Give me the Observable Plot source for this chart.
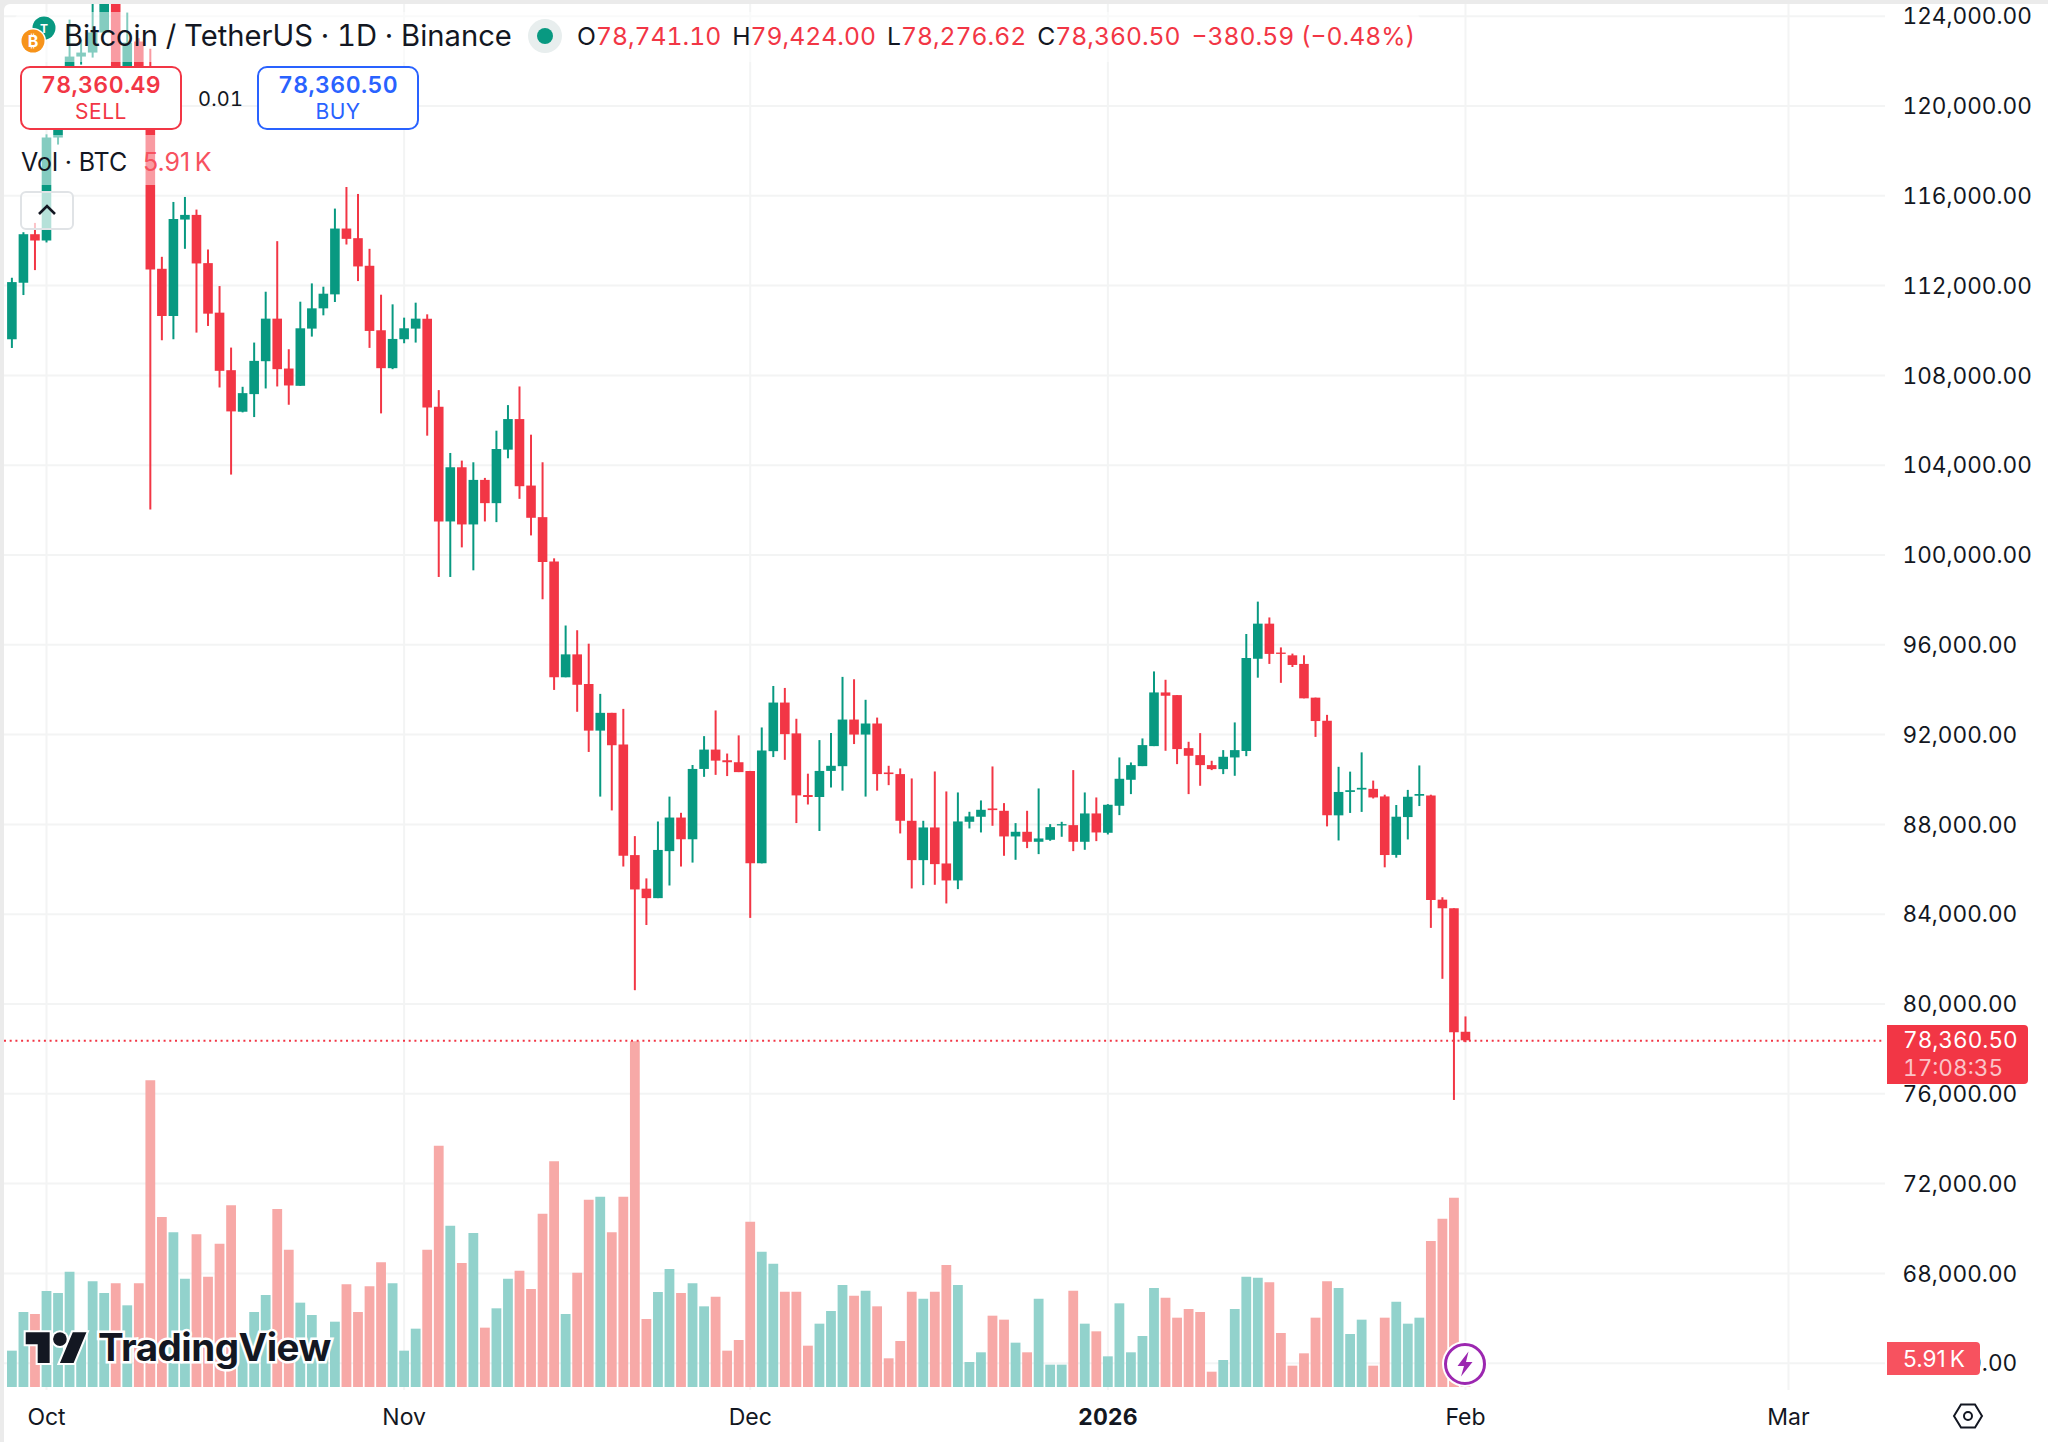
<!DOCTYPE html>
<html>
<head>
<meta charset="utf-8">
<script src="https://cdn.jsdelivr.net/npm/d3@7"></script>
<script src="https://cdn.jsdelivr.net/npm/@observablehq/plot@0.6"></script>
<style>
html,body{margin:0;padding:0;background:#fff;}
body{width:2048px;height:1442px;overflow:hidden;position:relative;font-family:Inter,sans-serif;color:#131722;font-variant-numeric:tabular-nums;}
#chart{position:absolute;left:0;top:0;}
#chart svg{background:#fff;font-family:Inter,sans-serif;font-variant-numeric:tabular-nums;display:block;}
.ov{position:absolute;white-space:nowrap;}
.box{position:absolute;box-sizing:border-box;background:#fff;border:2px solid;border-radius:10px;text-align:center;}
.box .p{font-size:23px;font-weight:600;line-height:28px;margin-top:3px;letter-spacing:.4px;}
.box .s{font-size:21px;font-weight:400;line-height:26px;letter-spacing:.5px;}
</style>
</head>
<body>
<div id="chart"></div>
<div class="ov" style="left:4px;top:4px;width:2100px;height:1500px;border-radius:6px 0 0 0;box-shadow:0 0 0 20px #ebebeb"></div>

<div class="ov" style="left:15px;top:12px;width:1405px;height:50px;background:rgba(255,255,255,.5);border-radius:8px"></div>
<div class="ov" style="left:15px;top:135px;width:210px;height:50px;background:rgba(255,255,255,.5);border-radius:8px"></div>

<svg class="ov" style="left:18px;top:14px" width="46" height="46" viewBox="0 0 46 46">
  <circle cx="26" cy="14" r="11.5" fill="#089981"/>
  <text x="26" y="19" font-size="12" font-weight="700" fill="#fff" text-anchor="middle">T</text>
  <circle cx="15" cy="27" r="13" fill="#fff"/>
  <circle cx="15" cy="27" r="11.5" fill="#f7931a"/>
  <text x="15" y="33" font-size="16" font-weight="700" fill="#fff" text-anchor="middle">₿</text>
</svg>
<div class="ov" style="left:64px;top:18px;font-size:29.2px;line-height:36px">Bitcoin / TetherUS · 1D · Binance</div>
<svg class="ov" style="left:527px;top:18px" width="36" height="36"><circle cx="18" cy="18" r="17" fill="#e8eeee"/><circle cx="18" cy="18" r="8" fill="#089981"/></svg>
<div class="ov" style="left:577px;top:20px;font-size:24.7px;line-height:32px"><span>O</span><span style="color:#f23645">78,741.10</span><span style="margin-left:11px">H</span><span style="color:#f23645">79,424.00</span><span style="margin-left:11px">L</span><span style="color:#f23645">78,276.62</span><span style="margin-left:11px">C</span><span style="color:#f23645">78,360.50</span><span style="margin-left:11px;color:#f23645">−380.59 (−0.48%)</span></div>

<div class="box" style="left:20px;top:66px;width:162px;height:64px;border-color:#f23645;color:#f23645"><div class="p">78,360.49</div><div class="s">SELL</div></div>
<div class="ov" style="left:198px;top:86px;font-size:20px;line-height:26px;letter-spacing:.2px">0.01</div>
<div class="box" style="left:257px;top:66px;width:162px;height:64px;border-color:#2962ff;color:#2962ff"><div class="p">78,360.50</div><div class="s">BUY</div></div>

<div class="ov" style="left:21px;top:146px;font-size:25px;line-height:32px">Vol · BTC</div>
<div class="ov" style="left:143px;top:146px;font-size:25px;line-height:32px;color:#f7525f;font-variant-numeric:normal">5.91&#8201;K</div>
<div class="ov" style="left:20px;top:191px;width:54px;height:39px;box-sizing:border-box;border:2px solid #e0e3e6;border-radius:6px;background:rgba(255,255,255,.7)"></div>
<svg class="ov" style="left:35px;top:201px" width="24" height="16"><path d="M4 13 L12 5 L20 13" fill="none" stroke="#131722" stroke-width="2.6"/></svg>

<svg class="ov" style="left:24px;top:1330px" width="64" height="36" viewBox="-1 3 37.4 20.4" overflow="visible">
  <g style="paint-order:stroke" stroke="#fff" stroke-width="2.4" fill="#131722">
    <path d="M14 22H7V11H0V4h14v18zM28 22h-8l7.5-18h8L28 22z"/><circle cx="20" cy="8" r="4"/>
  </g>
</svg>
<div class="ov" style="left:98px;top:1324px;font-size:38.6px;line-height:46px;font-weight:700;letter-spacing:-.55px;color:#131722;paint-order:stroke fill;-webkit-text-stroke:5px #fff">TradingView</div>

<svg class="ov" style="left:1439px;top:1338px" width="52" height="52" viewBox="0 0 52 52">
  <circle cx="26" cy="26" r="23" fill="#fff"/>
  <circle cx="26" cy="26" r="19.5" fill="#fff" stroke="#9c27b0" stroke-width="3"/>
  <path d="M29.5 13.5 L18.5 28 L25 28 L22 38.5 L33.5 24 L27 24 Z" fill="#9c27b0"/>
</svg>

<div class="ov" style="left:1887px;top:1025px;width:141px;height:59px;background:#f23645;border-radius:0 4px 4px 0"></div>
<div class="ov" style="left:1903px;top:1025px;font-size:22.6px;line-height:30px;color:#fff">78,360.50</div>
<div class="ov" style="left:1903px;top:1053px;font-size:22.6px;line-height:30px;color:#fbc3c7">17:08:35</div>
<div class="ov" style="left:1887px;top:1342px;width:93px;height:33px;background:#f7525f;border-radius:0 4px 4px 0"></div>
<div class="ov" style="left:1903px;top:1344px;font-size:22.6px;line-height:30px;color:#fff;font-variant-numeric:normal">5.91&#8201;K</div>
<svg class="ov" style="left:1952px;top:1402px" width="32" height="28" viewBox="0 0 32 28"><path d="M9 2.5 H23 L30 14 L23 25.5 H9 L2 14 Z" fill="none" stroke="#131722" stroke-width="2"/><circle cx="16" cy="14" r="4" fill="none" stroke="#131722" stroke-width="2"/></svg>

<script>
const startDay = "2025-09-28";
const opens = [109587,112105,114267,113986,118572,120500,122180,122358,123250,124650,121400,122850,121600,112727,110624,114919,115127,112979,110773,108210,106359,107144,108610,110506,108284,107514,110062,110965,111587,114519,114090,112861,109988,108299,109588,110062,110506,106581,101472,103886,101339,103323,102287,104670,106033,103071,101664,99688,94531,95552,94232,92155,92947,91539,86611,85115,84693,86787,88283,87315,90448,91310,90835,90747,90360,86242,91240,93405,92032,89286,89198,90360,90571,92648,91979,92472,90290,90219,88139,86386,87842,86238,85481,88094,88317,88688,88584,87441,87649,87203,87292,87931,87946,87203,88466,87604,88807,89965,90574,91465,93856,93737,91376,91064,90619,90440,90960,91248,95356,96920,95632,95509,95126,93624,92597,88381,89423,89530,89561,89224,86618,88304,89255,89270,84625,84242,78741.10];
const closes = [112134,114267,113986,118572,120500,122180,122358,123250,124650,121400,122800,121600,112690,110624,114949,115127,112964,110728,108181,106374,107188,108625,110506,108255,107529,110076,110965,111617,114519,114060,112831,109958,108299,109602,110076,110506,106552,101472,103886,101339,103323,102287,104700,106033,103042,101635,99665,94531,95552,94197,92155,92947,91504,86576,85080,84693,86840,88283,87315,90448,91310,90818,90747,90307,86242,91275,93405,91997,89269,89198,90360,90589,92648,91979,92472,90219,90219,88139,86386,87842,86208,85481,88109,88332,88629,88614,87441,87649,87203,87352,87857,87990,87203,88466,87619,88852,90010,90619,91510,93856,93708,91332,91034,90619,90440,90990,91287,95387,96920,95571,95571,95080,93593,92581,88381,89423,89500,89607,89178,86613,88320,89209,89331,84610,84242,78723,78360.50];
const highs = [112327,114356,114770,118700,121000,123827,122940,125100,126200,125100,124140,123000,122530,113260,115704,115926,115364,113586,111957,109217,107470,109440,111705,113957,109143,111261,112076,111928,115408,116371,116060,113616,111572,111143,110550,111217,110698,107322,104523,104182,104108,103412,105515,106655,107485,105337,104108,99829,96837,96626,96027,93792,92947,93123,87456,85573,88107,89216,88494,90624,91909,93053,91134,91944,90360,92296,94144,94056,92683,90237,91733,92050,94549,94443,93528,92736,90589,90470,90025,88139,90336,89446,89401,88540,89045,90559,88926,88035,88584,89579,87990,88094,90396,89401,89178,88881,90960,90737,91807,94792,94420,93737,91658,92044,90812,91287,92520,96460,97901,97196,95862,95586,95509,93624,92857,90543,90328,91186,89929,89301,88841,89515,90604,89301,84733,84242,79424.00];
const lows = [109200,111557,112668,113900,118260,119300,121822,122135,123150,120600,120700,119500,102000,109543,109588,113616,109884,110180,107440,103560,106330,106122,107396,107485,106670,107514,109706,110654,111246,113808,112179,109203,106285,108255,109410,109440,105293,98999,98999,100317,99295,101472,101442,104286,102479,100850,98006,93968,94531,92994,91205,89216,88600,86101,80592,83496,84693,85256,86101,86277,90096,90184,90131,90307,83813,86242,90976,90853,88037,88864,87685,89621,89480,91557,89216,89480,89726,87575,85124,85273,85288,84456,85094,87797,87619,87916,86579,86401,86921,86654,87248,87426,86787,86847,87233,87530,88391,89327,90574,91465,91257,90663,89327,89698,90396,90218,90143,91018,94513,95126,94283,94988,93593,91876,87890,87262,88488,88534,89132,86066,86495,87308,88795,83368,81100,75703,78276.62];
const volumes = [8.59,17.73,17.26,22.69,22.22,27.26,12.37,24.98,22.22,24.51,19.31,24.51,72.50,40.19,36.56,25.61,36.09,26.08,33.88,42.95,11.19,17.73,21.75,42.08,32.47,19.94,17.02,7.25,15.44,24.27,17.73,23.80,29.47,24.51,8.59,13.79,32.47,57.05,38.14,29.31,36.41,14.03,18.60,25.61,27.50,23.17,40.98,53.35,17.26,27.03,44.29,44.99,36.56,44.99,81.72,16.08,22.46,27.90,22.22,24.51,19.07,21.35,8.59,11.11,39.08,31.99,29.16,22.54,22.54,9.77,14.97,17.97,24.11,21.59,22.77,19.07,6.78,10.87,22.54,20.88,22.54,28.84,24.11,5.91,8.20,16.86,15.92,10.48,8.20,20.88,5.28,5.28,22.77,14.97,13.16,7.25,19.78,8.20,12.06,23.40,21.12,16.39,18.44,17.73,3.62,6.38,18.44,26.08,25.85,24.74,12.77,5.04,7.96,16.39,24.98,23.40,12.53,15.92,5.04,16.39,20.17,14.97,16.39,34.51,39.79,44.76,5.91];
const priceTicks = d3.range(64000, 124001, 4000);
const monthTicks = ["2025-10-01","2025-11-01","2025-12-01","2026-01-01","2026-02-01","2026-03-01"].map(d => new Date(d));
const monthLabels = ["Oct","Nov","Dec","2026","Feb","Mar"];
const lastPrice = 78360.50;

const red = "#f23645", green = "#089981", redVol = "#f7a9a7", greenVol = "#92d2cc", gridCol = "#f3f4f4";
// The volume pane shares the price axis: its zero sits at volBase and one thousand BTC spans volStep.
const volBase = 62918, volStep = 188.4;

const start = new Date(startDay);
const rows = closes.map((c, i) => ({
  date: d3.utcDay.offset(start, i),
  o: opens[i], h: highs[i], l: lows[i], c, v: volumes[i]
}));
const up = rows.filter(d => d.c >= d.o), down = rows.filter(d => d.c < d.o);

const chart = Plot.plot({
  width: 2048, height: 1442,
  marginTop: 4, marginLeft: 4, marginRight: 163, marginBottom: 52,
  x: {type: "utc", domain: [monthTicks[0], monthTicks[5]], range: [46, 1788]},
  y: {domain: [64000, 124000], range: [1362.7, 15.7]},
  marks: [
    Plot.gridY(priceTicks, {stroke: gridCol, strokeOpacity: 1, strokeWidth: 2}),
    Plot.gridX(monthTicks, {stroke: gridCol, strokeOpacity: 1, strokeWidth: 2}),
    Plot.ruleX(up, {x: "date", y1: volBase, y2: d => volBase + d.v * volStep, stroke: greenVol, strokeWidth: 9.8}),
    Plot.ruleX(down, {x: "date", y1: volBase, y2: d => volBase + d.v * volStep, stroke: redVol, strokeWidth: 9.8}),
    Plot.ruleY([lastPrice], {stroke: red, strokeWidth: 2, strokeDasharray: "2,3.7"}),
    Plot.ruleX(up, {x: "date", y1: "l", y2: "h", stroke: green, strokeWidth: 2}),
    Plot.ruleX(down, {x: "date", y1: "l", y2: "h", stroke: red, strokeWidth: 2}),
    Plot.ruleX(up, {x: "date", y1: "o", y2: "c", stroke: green, strokeWidth: 9.6}),
    Plot.ruleX(down, {x: "date", y1: "o", y2: "c", stroke: red, strokeWidth: 9.6}),
    Plot.axisY({anchor: "right", ticks: priceTicks, tickSize: 0, tickPadding: 17, label: null, dy: 1,
      tickFormat: d => d3.format(",.2f")(d), fontSize: 22.6, fill: "#131722"}),
    Plot.axisX({ticks: monthTicks.filter((d, i) => i !== 3), tickSize: 0, tickPadding: 18, label: null,
      tickFormat: d => monthLabels[monthTicks.findIndex(m => +m === +d)], fontSize: 23, fill: "#131722"}),
    Plot.axisX({ticks: [monthTicks[3]], tickSize: 0, tickPadding: 18, label: null,
      tickFormat: () => monthLabels[3], fontSize: 23, fontWeight: 700, fill: "#131722"})
  ]
});
document.getElementById("chart").append(chart);
</script>
</body>
</html>
